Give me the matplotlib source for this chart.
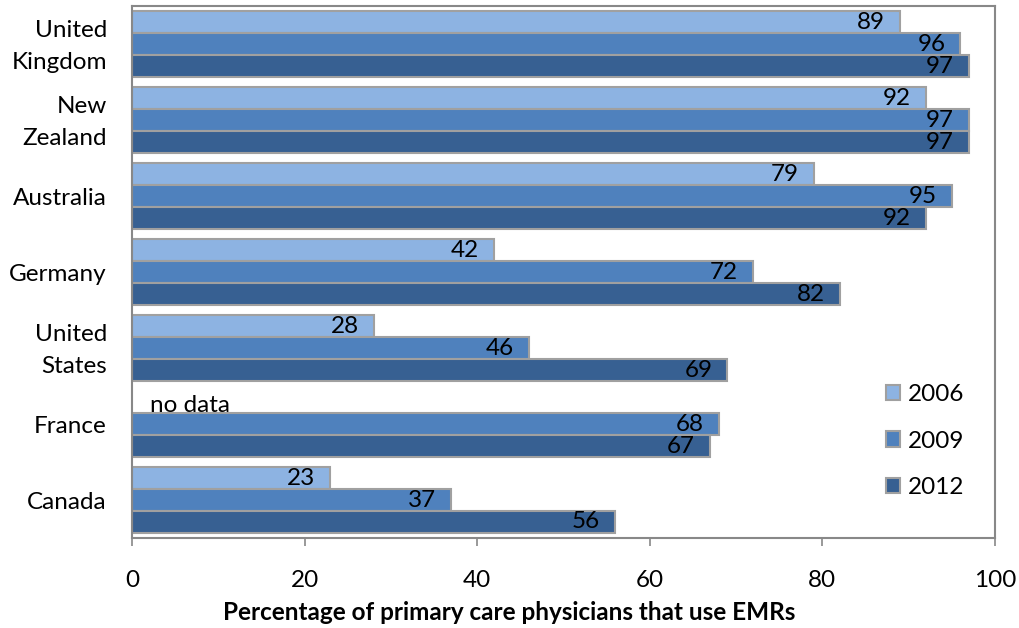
import matplotlib
matplotlib.use("Agg")
import matplotlib.pyplot as plt
import matplotlib.transforms as mtransforms
import numpy as np

countries = ["United\nKingdom", "New\nZealand", "Australia", "Germany",
             "United\nStates", "France", "Canada"]
years = ["2006", "2009", "2012"]
v2006 = [89, 92, 79, 42, 28, None, 23]
v2009 = [96, 97, 95, 72, 46, 68, 37]
v2012 = [97, 97, 92, 82, 69, 67, 56]
colors = ["#8DB3E2", "#4F81BD", "#376092"]
edge = "#A0A0A0"

plt.rcParams["font.family"] = ["Lato", "DejaVu Sans"]
fs = 17.5

fig = plt.figure(figsize=(10.19, 6.28), dpi=100)
ax = fig.add_axes([132 / 1019, 1 - 538 / 628, (995 - 132) / 1019, (538 - 6) / 628])

y = np.arange(len(countries))
bh = 66 / 76 / 3
series = [v2006, v2009, v2012]
handles = []
for i, (vals, col, yr) in enumerate(zip(series, colors, years)):
    pos = y - bh + i * bh
    for p, v in zip(pos, vals):
        if v is None:
            continue
        ax.barh(p, v, height=bh, color=col, edgecolor=edge, linewidth=1.5)
        ax.annotate(str(v), xy=(v, p), xytext=(-15, 0), textcoords="offset pixels",
                    ha="right", va="center", fontsize=fs, color="black")
    handles.append(plt.Rectangle((0, 0), 1, 1, facecolor=col, edgecolor=edge, linewidth=1.5))

# France has no 2006 survey value
ax.text(2.1, 5 - bh + 0.18, "no data", ha="left", va="bottom", fontsize=fs)

ax.set_xlim(0, 100)
ax.set_ylim(6.5, -0.5)
ax.set_xticks([0, 20, 40, 60, 80, 100])
ax.set_yticks(y)
ax.set_yticklabels(countries, fontsize=fs, linespacing=1.65)
ax.tick_params(axis="y", length=0, pad=18)
ax.tick_params(axis="x", length=6, width=1.2, color="#888888", labelsize=fs, pad=17)
for s in ax.spines.values():
    s.set_color("#888888")
    s.set_linewidth(1.5)

# lift two-line category names so they sit centred on their group
lift = mtransforms.ScaledTranslation(0, 5 / 100, fig.dpi_scale_trans)
for lbl in ax.get_yticklabels():
    if "\n" in lbl.get_text():
        lbl.set_transform(lbl.get_transform() + lift)

ax.legend(handles, years, loc="center left", bbox_to_anchor=(0.848, 0.182),
          frameon=False, fontsize=fs, handlelength=0.6, handleheight=0.6,
          handletextpad=0.3, labelspacing=1.05)

fig.text(0.5, 1 - 613 / 628, "Percentage of primary care physicians that use EMRs",
         ha="center", va="center", fontsize=fs, fontweight="bold")

fig.savefig("out.png", dpi=100)
